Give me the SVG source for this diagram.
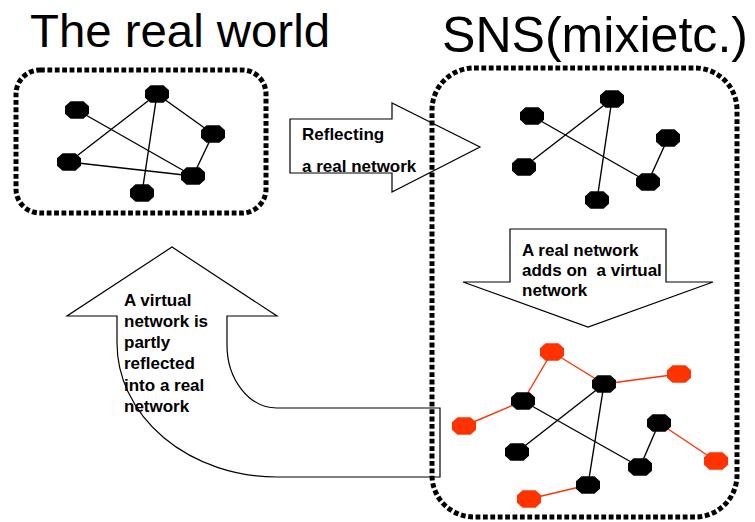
<svg xmlns="http://www.w3.org/2000/svg" width="755" height="522" viewBox="0 0 755 522">
<style>
.title{font-family:"Liberation Sans",Arial,sans-serif;font-size:47px;fill:#000}
.lbl{font-family:"Liberation Sans",Arial,sans-serif;font-size:17px;font-weight:bold;fill:#000}
.arrow{fill:#fff;stroke:#000;stroke-width:1.2}
.box{fill:none;stroke:#000;stroke-width:5;stroke-dasharray:4.8 2.6}
.e{stroke:#000;stroke-width:1.4;fill:none}
.r{stroke:#ff3300;stroke-width:1.4;fill:none}
.bn{fill:#000}
.rn{fill:#ff3300}
</style>
<defs>
<polygon id="oct" points="-12,-3.8 -6.5,-8.8 6.5,-8.8 12,-3.8 12,3.8 6.5,8.8 -6.5,8.8 -12,3.8"/>
</defs>
<rect width="755" height="522" fill="#fff"/>
<text class="title" x="30" y="47" textLength="300" lengthAdjust="spacingAndGlyphs">The real world</text>
<text class="title" x="442" y="52" style="font-size:50px" textLength="306" lengthAdjust="spacingAndGlyphs">SNS(mixietc.)</text>

<g id="arrow-reflect">
<polygon class="arrow" points="290,119 392,119 392,103 480,147 392,192 392,173 290,173"/>
<text class="lbl" x="302" y="140">Reflecting</text>
<text class="lbl" x="302" y="172">a real network</text>
</g>
<g id="arrow-adds">
<polygon class="arrow" points="510,229 666,229 666,282 713,282 588,327 463,282 510,282"/>
<text class="lbl" x="522" y="256">A real network</text>
<text class="lbl" x="522" y="276" xml:space="preserve">adds on  a virtual</text>
<text class="lbl" x="522" y="296">network</text>
</g>
<g id="arrow-back">
<path class="arrow" d="M440,408 L277,408 A50,63 0 0 1 227,345 L227,316 L277,316 L172,247 L67,316 L117,316 L117,343 A160,134 0 0 0 277,477 L440,477 Z"/>
<text class="lbl" x="124" y="306">A virtual</text>
<text class="lbl" x="124" y="327">network is</text>
<text class="lbl" x="124" y="348">partly</text>
<text class="lbl" x="124" y="369">reflected</text>
<text class="lbl" x="124" y="391">into a real</text>
<text class="lbl" x="124" y="412">network</text>
</g>

<g id="box-real"><rect class="box" x="16" y="70" width="250" height="143" rx="24" ry="24"/></g>
<g id="box-sns"><rect class="box" x="432" y="68" width="305" height="449" rx="42" ry="42"/></g>

<g id="connectors">
<line class="e" x1="77" y1="110" x2="193" y2="176"/>
<line class="e" x1="157" y1="94" x2="69" y2="162"/>
<line class="e" x1="157" y1="94" x2="142" y2="193"/>
<line class="e" x1="157" y1="94" x2="213" y2="134"/>
<line class="e" x1="213" y1="134" x2="193" y2="176"/>
<line class="e" x1="69" y1="162" x2="193" y2="176"/>

<line class="e" x1="532" y1="116" x2="648" y2="182"/>
<line class="e" x1="612" y1="99" x2="524" y2="167"/>
<line class="e" x1="612" y1="99" x2="597" y2="200"/>
<line class="e" x1="668" y1="138" x2="648" y2="182"/>

<line class="e" x1="523" y1="401" x2="640" y2="467"/>
<line class="e" x1="604" y1="384" x2="517" y2="452"/>
<line class="e" x1="604" y1="384" x2="588" y2="485"/>
<line class="e" x1="659" y1="423" x2="640" y2="467"/>

<line class="r" x1="552" y1="352" x2="523" y2="401"/>
<line class="r" x1="552" y1="352" x2="604" y2="384"/>
<line class="r" x1="604" y1="384" x2="679" y2="374"/>
<line class="r" x1="523" y1="401" x2="464" y2="426"/>
<line class="r" x1="659" y1="423" x2="716" y2="461"/>
<line class="r" x1="588" y1="485" x2="529" y2="499"/>
</g>

<g id="n1"><use href="#oct" class="bn" x="77" y="110"/></g>
<g id="n2"><use href="#oct" class="bn" x="157" y="94"/></g>
<g id="n3"><use href="#oct" class="bn" x="213" y="134"/></g>
<g id="n4"><use href="#oct" class="bn" x="69" y="162"/></g>
<g id="n5"><use href="#oct" class="bn" x="193" y="176"/></g>
<g id="n6"><use href="#oct" class="bn" x="142" y="193"/></g>

<g id="s1"><use href="#oct" class="bn" x="532" y="116"/></g>
<g id="s2"><use href="#oct" class="bn" x="612" y="99"/></g>
<g id="s3"><use href="#oct" class="bn" x="668" y="138"/></g>
<g id="s4"><use href="#oct" class="bn" x="524" y="167"/></g>
<g id="s5"><use href="#oct" class="bn" x="648" y="182"/></g>
<g id="s6"><use href="#oct" class="bn" x="597" y="200"/></g>

<g id="b1"><use href="#oct" class="bn" x="604" y="384"/></g>
<g id="b2"><use href="#oct" class="bn" x="523" y="401"/></g>
<g id="b3"><use href="#oct" class="bn" x="659" y="423"/></g>
<g id="b4"><use href="#oct" class="bn" x="517" y="452"/></g>
<g id="b5"><use href="#oct" class="bn" x="640" y="467"/></g>
<g id="b6"><use href="#oct" class="bn" x="588" y="485"/></g>

<g id="r1"><use href="#oct" class="rn" x="552" y="352"/></g>
<g id="r2"><use href="#oct" class="rn" x="679" y="374"/></g>
<g id="r3"><use href="#oct" class="rn" x="464" y="426"/></g>
<g id="r4"><use href="#oct" class="rn" x="716" y="461"/></g>
<g id="r5"><use href="#oct" class="rn" x="529" y="499"/></g>
</svg>
